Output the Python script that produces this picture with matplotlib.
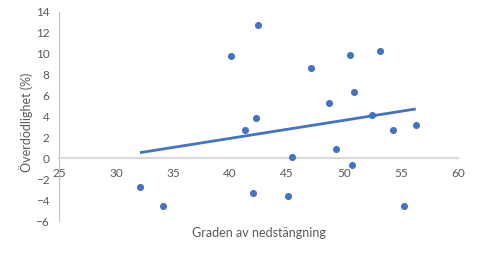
import numpy as np
import matplotlib
matplotlib.use("Agg")
import matplotlib.pyplot as plt

plt.rcParams['font.family'] = ['Lato', 'DejaVu Sans']

# lockdown degree vs excess mortality (%)
lockdown = [40.1, 42.5, 47.1, 50.5, 53.2, 48.7, 50.9, 42.3, 41.3, 52.5,
            54.3, 56.3, 45.4, 49.3, 50.7, 42.0, 45.1, 55.3, 32.1, 34.1]
excess = [9.8, 12.8, 8.6, 9.9, 10.3, 5.3, 6.3, 3.9, 2.7, 4.1,
          2.7, 3.2, 0.1, 0.9, -0.6, -3.3, -3.6, -4.6, -2.7, -4.6]

xticks = [25, 30, 35, 40, 45, 50, 55, 60]
yticks = [-6, -4, -2, 0, 2, 4, 6, 8, 10, 12, 14]

blue = '#4472C4'
grey_txt = '#595959'

fig = plt.figure(figsize=(4.8, 2.6), dpi=100)
ax = fig.add_axes([0.123, 0.15, 0.831, 0.804])

ax.scatter(lockdown, excess, s=26, color=blue, zorder=3, linewidths=0)

# linear trendline
k, m = np.polyfit(lockdown, excess, 1)
xs = np.array([min(lockdown), max(lockdown)])
ax.plot(xs, k * xs + m, color=blue, lw=2.0, zorder=2, solid_capstyle='butt')

ax.set_xlim(25, 60)
ax.set_ylim(-6, 14)
ax.set_xticks(xticks)
ax.set_yticks(yticks)

for s in ['top', 'right']:
    ax.spines[s].set_visible(False)
ax.spines['bottom'].set_position(('data', 0))
ax.spines['bottom'].set_color('#d9d9d9')
ax.spines['bottom'].set_linewidth(1.6)
ax.spines['left'].set_color('#bfbfbf')
ax.spines['left'].set_linewidth(0.8)

ax.tick_params(axis='x', length=0, pad=7, labelsize=8.5, labelcolor=grey_txt)
ax.tick_params(axis='y', length=0, pad=7, labelsize=8.5, labelcolor=grey_txt)

ax.set_xlabel('Graden av nedstängning', fontsize=9, color=grey_txt)
ax.xaxis.set_label_coords(0.5, -0.03)
ax.set_ylabel('Överdödlighet (%)', fontsize=9, color=grey_txt)
ax.yaxis.set_label_coords(-0.065, 0.47)

fig.savefig('out.png', dpi=100)
